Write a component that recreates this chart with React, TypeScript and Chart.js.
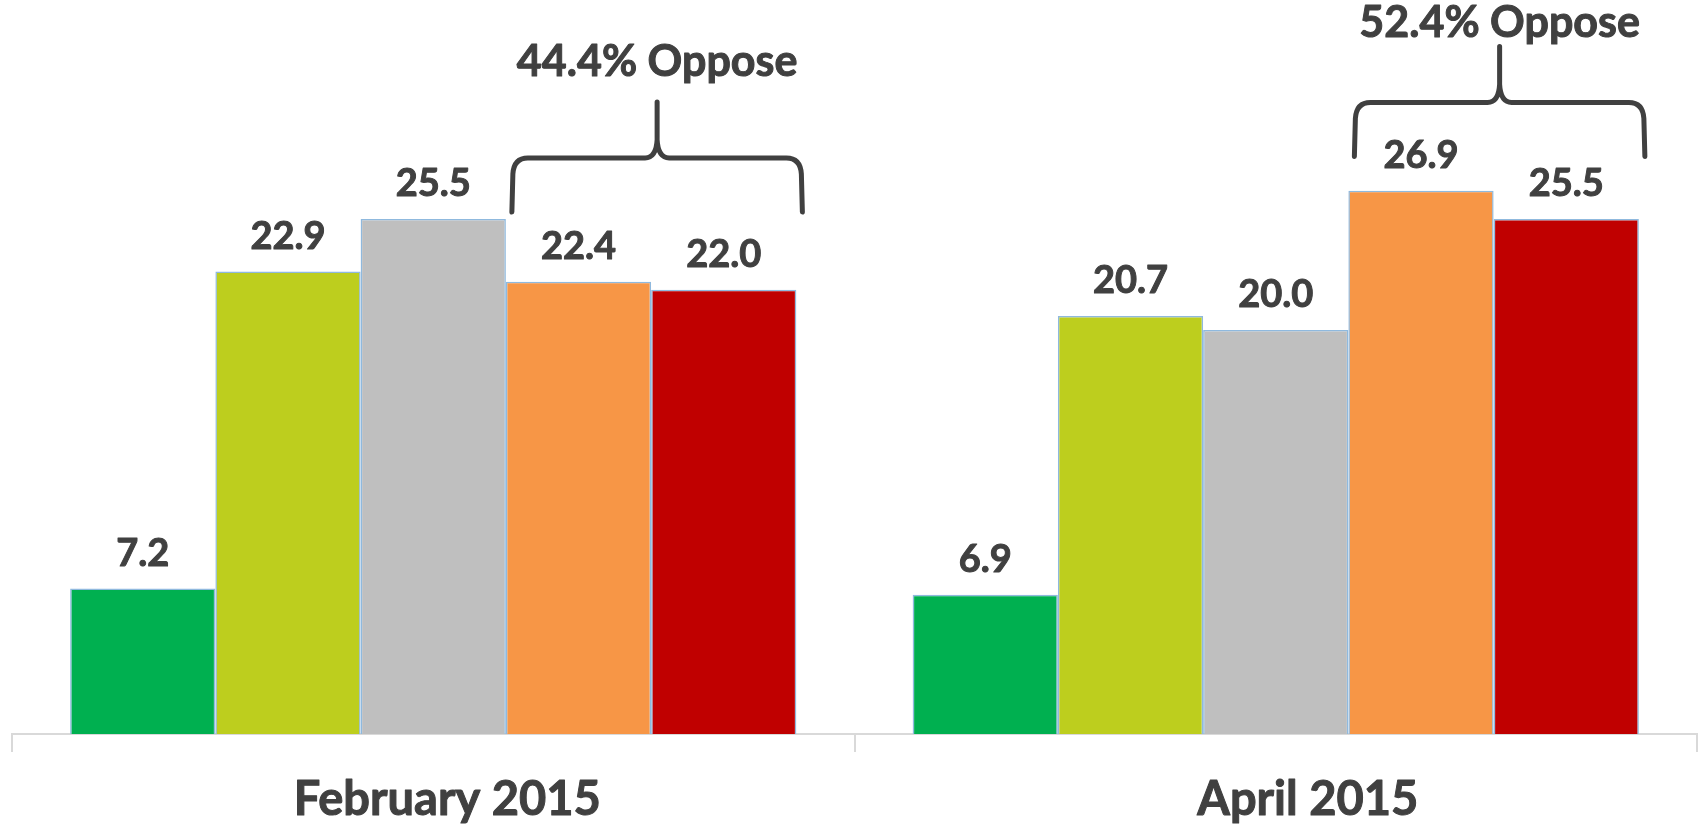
import React, { useEffect, useRef } from "react";
import { Chart, registerables } from "chart.js";

Chart.register(...registerables);

// ---- data ----
const categories = ["February 2015", "April 2015"];
const seriesNames = [
  "Strongly support",
  "Somewhat support",
  "Neither support nor oppose",
  "Somewhat oppose",
  "Strongly oppose",
];
const stronglySupport = [7.2, 6.9];
const somewhatSupport = [22.9, 20.7];
const neitherValues = [25.5, 20.0];
const somewhatOppose = [22.4, 26.9];
const stronglyOppose = [22.0, 25.5];
const seriesColors = ["#00B050", "#BDCE1E", "#BFBFBF", "#F79646", "#C00000"];

// annotation levels (in value units)
const braceLevels = [25.85, 28.6];
const opposeLabelLevels = [32.6, 34.5];
const categoryLabelShift = [14, 32];

const TEXT = "#404040";
const FONT = "Lato, 'Open Sans', sans-serif";

function boldText(ctx: CanvasRenderingContext2D, s: string, x: number, y: number) {
  ctx.fillText(s, x, y);
  ctx.strokeText(s, x, y);
}

const annotations = {
  id: "annotations",
  afterDatasetsDraw(chart: any) {
    const ctx = chart.ctx as CanvasRenderingContext2D;
    const y = chart.scales.y;
    const x = chart.scales.x;
    ctx.save();
    // value labels
    ctx.fillStyle = TEXT;
    ctx.strokeStyle = TEXT;
    ctx.lineWidth = 1;
    ctx.lineJoin = "round";
    ctx.font = `bold 38px ${FONT}`;
    ctx.textAlign = "center";
    ctx.textBaseline = "alphabetic";
    chart.data.datasets.forEach((ds: any, di: number) => {
      const meta = chart.getDatasetMeta(di);
      meta.data.forEach((el: any, i: number) => {
        boldText(ctx, Number(ds.data[i]).toFixed(1), el.x, el.y - 23);
      });
    });

    // braces + oppose totals
    categories.forEach((_, i) => {
      const m4 = chart.getDatasetMeta(3).data[i] as any;
      const m5 = chart.getDatasetMeta(4).data[i] as any;
      const xL = m4.x - m4.width / 2 + 6;
      const xR = m5.x + m5.width / 2 + 6;
      const xC = (xL + xR) / 2;
      const yB = y.getPixelForValue(braceLevels[i]);
      const yH = yB - 54;
      const yT = yH - 56;
      ctx.lineWidth = 5;
      ctx.lineCap = "round";
      ctx.beginPath();
      ctx.moveTo(xL, yB);
      ctx.lineTo(xL + 1, yH + 16);
      ctx.quadraticCurveTo(xL + 2, yH, xL + 16, yH);
      ctx.lineTo(xC - 12, yH);
      ctx.quadraticCurveTo(xC - 1, yH, xC, yH - 18);
      ctx.lineTo(xC, yT);
      ctx.moveTo(xR, yB);
      ctx.lineTo(xR - 1, yH + 16);
      ctx.quadraticCurveTo(xR - 2, yH, xR - 16, yH);
      ctx.lineTo(xC + 12, yH);
      ctx.quadraticCurveTo(xC + 1, yH, xC, yH - 18);
      ctx.stroke();

      const total = somewhatOppose[i] + stronglyOppose[i];
      ctx.lineWidth = 1;
      ctx.font = `bold 43px ${FONT}`;
      boldText(ctx, `${total.toFixed(1)}% Oppose`, xC, y.getPixelForValue(opposeLabelLevels[i]));
    });

    // category labels
    ctx.lineWidth = 1;
    ctx.font = `bold 47px ${FONT}`;
    categories.forEach((c, i) => {
      boldText(ctx, c, x.getPixelForValue(i) + categoryLabelShift[i], chart.chartArea.bottom + 81);
    });
    ctx.restore();
  },
};

export default function App() {
  const ref = useRef<HTMLCanvasElement>(null);
  useEffect(() => {
    document.body.style.margin = "0";
    const values = [stronglySupport, somewhatSupport, neitherValues, somewhatOppose, stronglyOppose];
    const chart = new Chart(ref.current!, {
      type: "bar",
      data: {
        labels: categories,
        datasets: values.map((v, i) => ({
          label: seriesNames[i],
          data: v,
          backgroundColor: seriesColors[i],
          borderColor: "#8FB9DE",
          borderWidth: 1.5,
          barPercentage: 1,
          categoryPercentage: 0.862,
        })),
      },
      options: {
        animation: false,
        responsive: false,
        devicePixelRatio: 1,
        layout: { padding: { left: 12, right: 5, top: 7, bottom: 74 } },
        plugins: { legend: { display: false }, tooltip: { enabled: false } },
        scales: {
          x: {
            grid: {
              display: true,
              drawOnChartArea: false,
              drawTicks: true,
              tickLength: 18,
              color: "#D9D9D9",
              lineWidth: 2,
              offset: true,
            },
            border: { display: true, color: "#D9D9D9", width: 2 },
            ticks: { display: false },
          },
          y: { display: false, min: 0, max: 36 },
        },
      },
      plugins: [annotations],
    });
    return () => chart.destroy();
  }, []);
  return (
    <div style={{ position: "absolute", left: 0, top: 0, width: 1702, height: 826, background: "#fff" }}>
      <canvas ref={ref} width={1702} height={826} style={{ width: 1702, height: 826 }} />
    </div>
  );
}
